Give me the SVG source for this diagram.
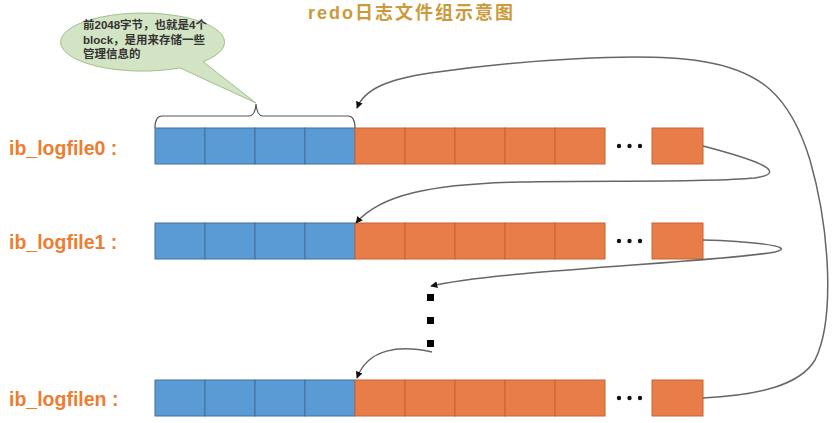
<svg xmlns="http://www.w3.org/2000/svg" width="832" height="423" viewBox="0 0 832 423">
<style>
.blue{fill:#5b9bd5;stroke:#41719c;stroke-width:1}
.orange{fill:#e97d4a;stroke:#c9652f;stroke-width:1}
.lbl{font-family:"Liberation Sans","Noto Sans CJK SC",sans-serif;font-weight:bold;font-size:19.5px;fill:#ed7d31}
.conn{fill:none;stroke:#666;stroke-width:1.5}
.dot{fill:#111}
.note{font-family:"Liberation Sans","Noto Sans CJK SC",sans-serif;font-size:11.5px;font-weight:bold;fill:#333}
</style>
<defs>
<marker id="ah" viewBox="0 0 10 10" refX="9" refY="5" markerWidth="7" markerHeight="7" orient="auto" markerUnits="userSpaceOnUse">
<path d="M0,0 L10,5 L0,10 z" fill="#111"/>
</marker>
<g id="rowshape">
<rect class="blue" x="155" y="0" width="50" height="36"/>
<rect class="blue" x="205" y="0" width="50" height="36"/>
<rect class="blue" x="255" y="0" width="50" height="36"/>
<rect class="blue" x="305" y="0" width="50" height="36"/>
<rect class="orange" x="355" y="0" width="50" height="36"/>
<rect class="orange" x="405" y="0" width="50" height="36"/>
<rect class="orange" x="455" y="0" width="50" height="36"/>
<rect class="orange" x="505" y="0" width="50" height="36"/>
<rect class="orange" x="555" y="0" width="50" height="36"/>
<circle class="dot" cx="619" cy="18" r="2.2"/>
<circle class="dot" cx="629.5" cy="18" r="2.2"/>
<circle class="dot" cx="640" cy="18" r="2.2"/>
<rect class="orange" x="652" y="0" width="51" height="36"/>
</g>
</defs>
<rect width="832" height="423" fill="#fff"/>
<text id="title" x="308" y="19" font-family="Liberation Sans,'Noto Sans CJK SC',sans-serif" font-weight="bold" font-size="18" fill="#cc9a3a" letter-spacing="2">redo日志文件组示意图</text>

<g id="callout">
<path d="M180,67.9 A82,29 0 1 1 203,61.7 L256,103 Z" fill="#d3e4c4" stroke="#9fc08a" stroke-width="1"/>
<text class="note" x="83" y="29">前2048字节，也就是4个</text>
<text class="note" x="83" y="44">block，是用来存储一些</text>
<text class="note" x="83" y="58">管理信息的</text>
</g>

<g id="brace">
<path d="M155,128 Q155,116 162,116 L249,116 Q255,116 256,104 Q257,116 263,116 L348,116 Q355,116 355,128" fill="none" stroke="#555" stroke-width="1.2"/>
</g>

<g id="logfile0">
<text class="lbl" x="9" y="155">ib_logfile0 :</text>
<use href="#rowshape" y="128"/>
</g>
<g id="logfile1">
<text class="lbl" x="9" y="249">ib_logfile1 :</text>
<use href="#rowshape" y="223"/>
</g>
<g id="vdots">
<rect x="427" y="294" width="7" height="7" fill="#000"/>
<rect x="427" y="317" width="7" height="7" fill="#000"/>
<rect x="427" y="340" width="7" height="7" fill="#000"/>
</g>
<g id="logfilen">
<text class="lbl" x="9" y="406">ib_logfilen :</text>
<use href="#rowshape" y="380"/>
</g>

<g id="connectors">
<path class="conn" marker-end="url(#ah)" d="M703,146 C745,157 795,172 755,178 C700,183 600,180 520,182 C430,184 380,195 356,223"/>
<path class="conn" marker-end="url(#ah)" d="M703,240 C745,241 800,246 775,252 C720,262 500,270 431,286"/>
<path class="conn" marker-end="url(#ah)" d="M432,352 C400,345 368,348 357,378"/>
<path class="conn" marker-end="url(#ah)" d="M703,398 C760,395 800,385 815,360 C835,320 830,230 810,160 C790,95 760,70 700,61 C640,52 520,60 430,73 C390,79 365,88 357,108"/>
</g>
</svg>
